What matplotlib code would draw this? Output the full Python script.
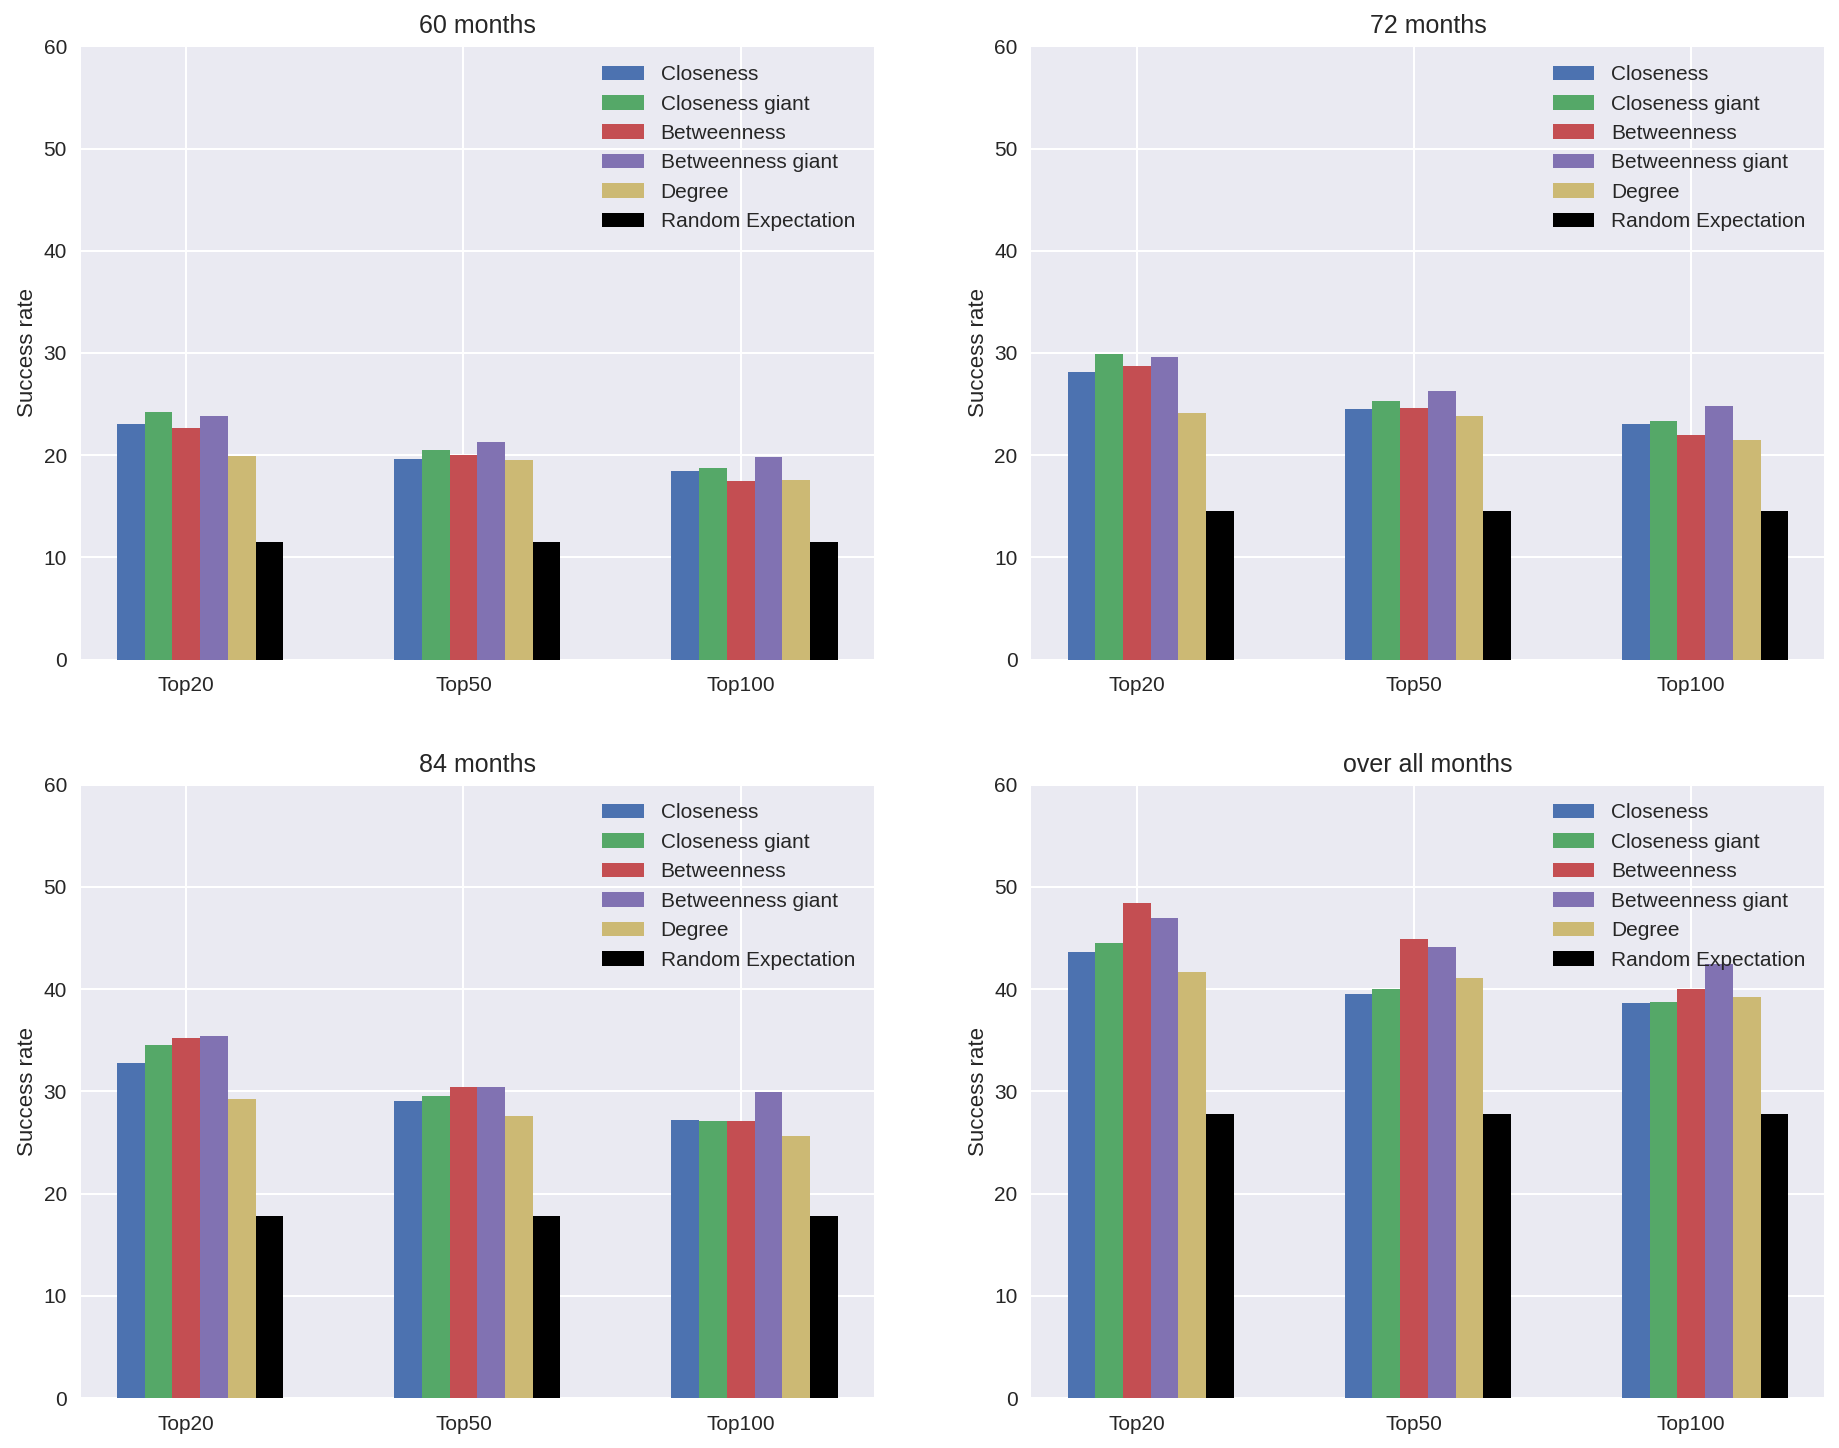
import numpy as np
import matplotlib
matplotlib.use("Agg")
import matplotlib.pyplot as plt

plt.style.use("seaborn-v0_8-darkgrid")
plt.rcParams["font.family"] = ["Liberation Sans", "DejaVu Sans"]
plt.rcParams["grid.linewidth"] = 1.5
plt.rcParams["xtick.major.pad"] = 12
plt.rcParams["ytick.major.pad"] = 10

groups = ["Top20", "Top50", "Top100"]
methods = ["Closeness", "Closeness giant", "Betweenness", "Betweenness giant",
           "Degree", "Random Expectation"]
colors = ["#4C72B0", "#55A868", "#C44E52", "#8172B2", "#CCB974", "black"]
titles = ["60 months", "72 months", "84 months", "over all months"]

# rows: methods, cols: Top20 / Top50 / Top100
rate_60 = [
    [23.1, 19.6, 18.5],
    [24.2, 20.5, 18.7],
    [22.7, 20.0, 17.5],
    [23.8, 21.3, 19.8],
    [19.9, 19.5, 17.6],
    [11.5, 11.5, 11.5],
]
rate_72 = [
    [28.1, 24.5, 23.1],
    [29.9, 25.3, 23.3],
    [28.7, 24.6, 22.0],
    [29.6, 26.3, 24.8],
    [24.1, 23.8, 21.5],
    [14.5, 14.5, 14.5],
]
rate_84 = [
    [32.8, 29.05, 27.2],
    [34.5, 29.55, 27.1],
    [35.2, 30.4, 27.1],
    [35.4, 30.4, 29.95],
    [29.25, 27.6, 25.6],
    [17.85, 17.85, 17.85],
]
rate_all = [
    [43.6, 39.5, 38.6],
    [44.55, 40.05, 38.7],
    [48.45, 44.95, 40.0],
    [46.95, 44.15, 42.5],
    [41.7, 41.1, 39.25],
    [27.8, 27.8, 27.8],
]
all_rates = [rate_60, rate_72, rate_84, rate_all]

fig, axes = plt.subplots(2, 2, figsize=(18.39, 14.48), dpi=100)
fig.subplots_adjust(left=0.044, right=0.992, top=0.968, bottom=0.0345,
                    wspace=0.199, hspace=0.204)

ind = np.arange(len(groups))
width = 0.1
for ax, title, rates in zip(axes.flat, titles, all_rates):
    for i, (name, col) in enumerate(zip(methods, colors)):
        ax.bar(ind + i * width, rates[i], width, color=col, label=name)
    ax.set_ylim(0, 60)
    ax.set_xticks(ind + 2 * width)
    ax.set_xticklabels(groups)
    ax.set_ylabel("Success rate", fontsize=16)
    ax.set_title(title, fontsize=18, pad=9.5)
    ax.tick_params(labelsize=15)
    ax.legend(loc="upper right", fontsize=15, frameon=False)

plt.savefig("out.png")
